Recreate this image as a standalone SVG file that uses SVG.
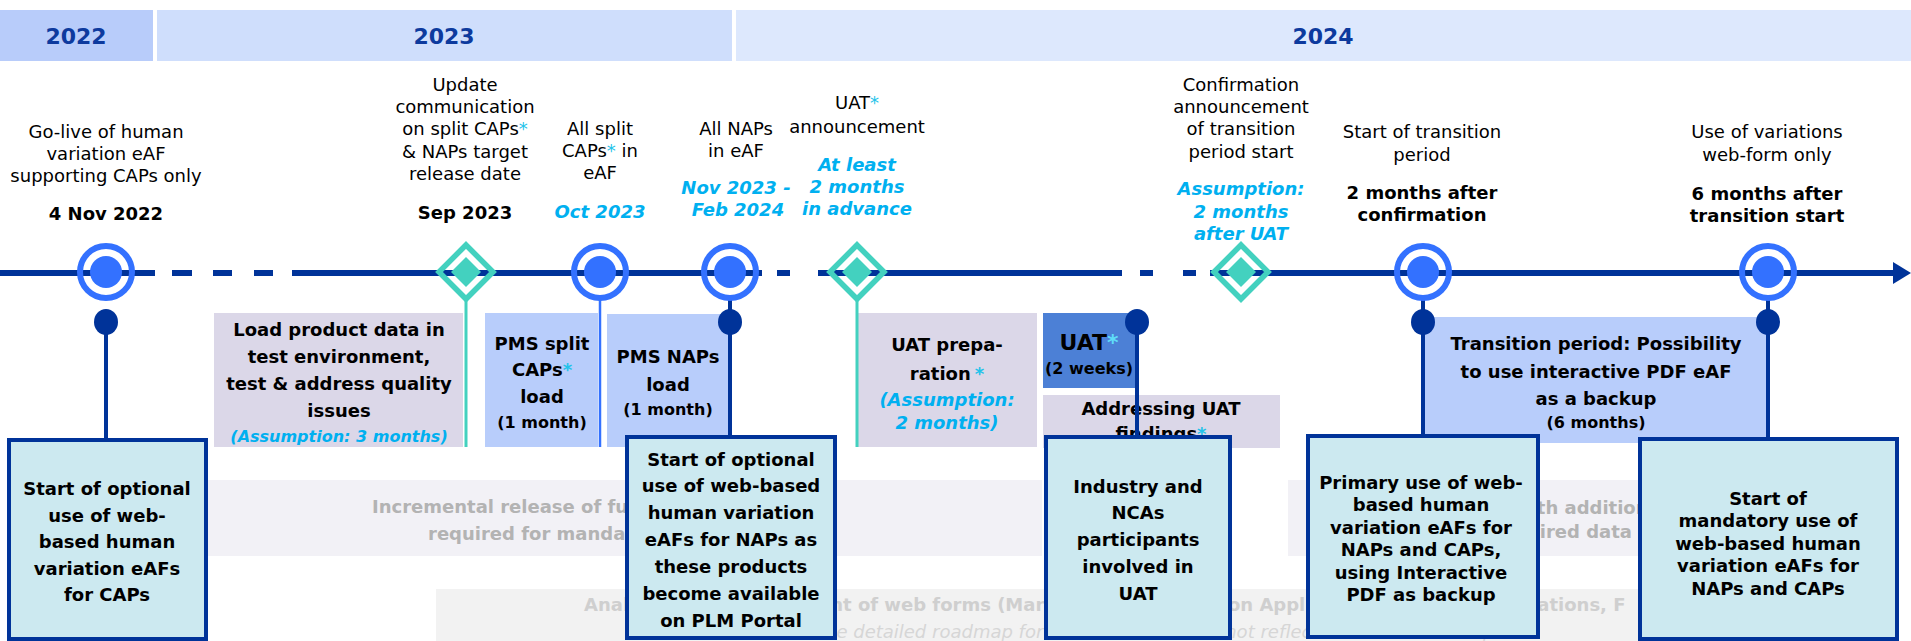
<svg xmlns="http://www.w3.org/2000/svg" width="1911" height="641" viewBox="0 0 1911 641">
<defs>
<style>
text{font-family:"DejaVu Sans",Verdana,sans-serif}
.t{font-size:18px;text-anchor:middle;fill:#000}
.b{font-weight:bold}
.cy{fill:#00b0f0;font-style:italic;font-weight:bold}
.ast{fill:#22c3ea}
.s16{font-size:16px}
.yr{font-size:22px;font-weight:bold;fill:#0d3a9e;text-anchor:middle}
.tl{stroke:#003399;stroke-width:6;fill:none}
.ring{fill:none;stroke:#3371ff;stroke-width:6}
.core{fill:#3371ff}
.dout{fill:none;stroke:#43d1bf;stroke-width:5.5}
.din{fill:#43d1bf}
.dot{fill:#003399}
.conn{stroke:#003399;stroke-width:4}
.tconn{stroke:#43d1bf;stroke-width:3}
.bconn{stroke:#3371ff;stroke-width:2.5}
.lav{fill:#dbd7e8}
.blue{fill:#b8cdfb}
.uat{fill:#4c80d6}
.key{fill:#cce9f0;stroke:#003399;stroke-width:4}
.barA{fill:#f2f1f6}
.barC{fill:#f2f2f2}
.fa{fill:#b3b3b3;font-size:18px;font-weight:bold}
.fc{fill:#cfcfcf;font-size:18px;font-weight:bold}
.fci{fill:#d6d6d6;font-size:18px;font-style:italic}
</style>
</defs>

<g id="years">
<rect x="0" y="10" width="153" height="51" fill="#b8ccfa"/>
<rect x="157" y="10" width="575" height="51" fill="#cfdefc"/>
<rect x="736" y="10" width="1175" height="51" fill="#dde8fd"/>
<text class="yr" x="76" y="44">2022</text>
<text class="yr" x="444" y="44">2023</text>
<text class="yr" x="1323" y="44">2024</text>
</g>

<g id="background-bars">
<rect class="barA" x="200" y="480" width="842" height="76"/>
<text class="fa" x="372" y="513">Incremental release of further functionalities</text>
<text class="fa" x="428" y="540">required for mandatory use</text>
<rect class="barA" x="1288" y="480" width="607" height="76"/>
<text class="fa" x="1514" y="514">with additional</text>
<text class="fa" x="1632" y="538" text-anchor="end">required data</text>
<rect class="barC" x="436" y="589" width="1300" height="52"/>
<text class="fc" x="584" y="611">Analysis and development of web forms (Marketing Authorisation Application, Renewals, Variations, F</text>
<text class="fci" x="814" y="638">The detailed roadmap for these web forms is not reflected on this roadmap</text>
</g>

<g id="period-load">
<rect class="lav" x="214" y="313" width="249" height="134"/>
<g class="t b">
<text x="339" y="336">Load product data in</text>
<text x="339" y="363">test environment,</text>
<text x="339" y="390">test &amp; address quality</text>
<text x="339" y="417">issues</text>
<text x="339" y="442" class="cy s16">(Assumption: 3 months)</text>
</g>
</g>

<g id="period-pms-split">
<rect class="blue" x="485" y="313" width="113" height="134"/>
<g class="t b">
<text x="542" y="350">PMS split</text>
<text x="542" y="376">CAPs<tspan class="ast">*</tspan></text>
<text x="542" y="403">load</text>
<text x="542" y="428" class="s16">(1 month)</text>
</g>
</g>

<g id="period-pms-naps">
<rect class="blue" x="607" y="314" width="123" height="133"/>
<g class="t b">
<text x="668" y="363">PMS NAPs</text>
<text x="668" y="391">load</text>
<text x="668" y="415" class="s16">(1 month)</text>
</g>
</g>

<g id="period-uat-prep">
<rect class="lav" x="857" y="313" width="180" height="134"/>
<g class="t b">
<text x="947" y="351">UAT prepa-</text>
<text x="947" y="380">ration<tspan class="ast" dx="4">*</tspan></text>
<text x="947" y="406" class="cy">(Assumption:</text>
<text x="947" y="429" class="cy">2 months)</text>
</g>
</g>

<g id="period-uat">
<rect class="uat" x="1043" y="313" width="92" height="75"/>
<g class="t b">
<text x="1089" y="350" style="font-size:22px">UAT<tspan class="ast" style="fill:#5fdcf8">*</tspan></text>
<text x="1089" y="374" class="s16">(2 weeks)</text>
</g>
</g>

<g id="period-addressing">
<rect class="lav" x="1043" y="395" width="237" height="53"/>
<g class="t b">
<text x="1161" y="415">Addressing UAT</text>
<text x="1161" y="440">findings<tspan class="ast">*</tspan></text>
</g>
</g>

<g id="period-transition">
<rect class="blue" x="1423" y="317" width="345" height="126"/>
<g class="t b">
<text x="1596" y="350">Transition period: Possibility</text>
<text x="1596" y="378">to use interactive PDF eAF</text>
<text x="1596" y="405">as a backup</text>
<text x="1596" y="428" class="s16">(6 months)</text>
</g>
</g>

<g id="connectors">
<line class="tconn" x1="466" y1="300" x2="466" y2="447"/>
<line class="tconn" x1="857" y1="300" x2="857" y2="447"/>
<line class="bconn" x1="600" y1="300" x2="600" y2="447"/>
<line class="conn" x1="106" y1="322" x2="106" y2="442"/>
<line class="conn" x1="730" y1="298" x2="730" y2="440"/>
<line class="conn" x1="1137" y1="322" x2="1137" y2="440"/>
<line class="conn" x1="1423" y1="298" x2="1423" y2="438"/>
<line class="conn" x1="1768" y1="298" x2="1768" y2="441"/>
<ellipse class="dot" cx="106" cy="322" rx="12" ry="13"/>
<ellipse class="dot" cx="730" cy="322" rx="12" ry="13"/>
<ellipse class="dot" cx="1137" cy="322" rx="12" ry="13"/>
<ellipse class="dot" cx="1423" cy="322" rx="12" ry="13"/>
<ellipse class="dot" cx="1768" cy="322" rx="12" ry="13"/>
</g>

<g id="timeline">
<path class="tl" d="M0,273H155M172,273H192M213,273H232M254,273H273M292,273H762M777,273H790M818,273H1122M1140,273H1153M1183,273H1196M1210,273H1895"/>
<polygon points="1893,262 1911,273 1893,284" fill="#003399"/>
</g>

<g id="m1"><circle class="ring" cx="106" cy="272" r="26"/><circle class="core" cx="106" cy="272" r="16"/>
<g class="t"><text x="106" y="138">Go-live of human</text><text x="106" y="160">variation eAF</text><text x="106" y="182">supporting CAPs only</text><text x="106" y="220" class="b">4 Nov 2022</text></g></g>

<g id="m2"><polygon class="dout" points="466,245 493,272 466,299 439,272"/><polygon class="din" points="466,257 481,272 466,287 451,272"/>
<g class="t"><text x="465" y="91">Update</text><text x="465" y="113">communication</text><text x="465" y="135">on split CAPs<tspan class="ast">*</tspan></text><text x="465" y="158">&amp; NAPs target</text><text x="465" y="180">release date</text><text x="465" y="219" class="b">Sep 2023</text></g></g>

<g id="m3"><circle class="ring" cx="600" cy="272" r="26"/><circle class="core" cx="600" cy="272" r="16"/>
<g class="t"><text x="600" y="135">All split</text><text x="600" y="157">CAPs<tspan class="ast">*</tspan> in</text><text x="600" y="179">eAF</text><text x="600" y="218" class="cy">Oct 2023</text></g></g>

<g id="m4"><circle class="ring" cx="730" cy="272" r="26"/><circle class="core" cx="730" cy="272" r="16"/>
<g class="t"><text x="736" y="135">All NAPs</text><text x="736" y="157">in eAF</text><text x="736" y="194" class="cy">Nov 2023 -</text><text x="738" y="216" class="cy">Feb 2024</text></g></g>

<g id="m5"><polygon class="dout" points="857,245 884,272 857,299 830,272"/><polygon class="din" points="857,257 872,272 857,287 842,272"/>
<g class="t"><text x="857" y="109">UAT<tspan class="ast">*</tspan></text><text x="857" y="133">announcement</text><text x="857" y="171" class="cy">At least</text><text x="857" y="193" class="cy">2 months</text><text x="857" y="215" class="cy">in advance</text></g></g>

<g id="m6"><polygon class="dout" points="1241,245 1268,272 1241,299 1214,272"/><polygon class="din" points="1241,257 1256,272 1241,287 1226,272"/>
<g class="t"><text x="1241" y="91">Confirmation</text><text x="1241" y="113">announcement</text><text x="1241" y="135">of transition</text><text x="1241" y="158">period start</text><text x="1241" y="195" class="cy">Assumption:</text><text x="1241" y="218" class="cy">2 months</text><text x="1241" y="240" class="cy">after UAT</text></g></g>

<g id="m7"><circle class="ring" cx="1423" cy="272" r="26"/><circle class="core" cx="1423" cy="272" r="16"/>
<g class="t"><text x="1422" y="138">Start of transition</text><text x="1422" y="161">period</text><text x="1422" y="199" class="b">2 months after</text><text x="1422" y="221" class="b">confirmation</text></g></g>

<g id="m8"><circle class="ring" cx="1768" cy="272" r="26"/><circle class="core" cx="1768" cy="272" r="16"/>
<g class="t"><text x="1767" y="138">Use of variations</text><text x="1767" y="161">web-form only</text><text x="1767" y="200" class="b">6 months after</text><text x="1767" y="222" class="b">transition start</text></g></g>

<g id="box1"><rect class="key" x="9" y="440" width="197" height="199"/>
<g class="t b"><text x="107" y="495">Start of optional</text><text x="107" y="522">use of web-</text><text x="107" y="548">based human</text><text x="107" y="575">variation eAFs</text><text x="107" y="601">for CAPs</text></g></g>

<g id="box2"><rect class="key" x="627" y="437" width="208" height="201"/>
<g class="t b"><text x="731" y="466">Start of optional</text><text x="731" y="492">use of web-based</text><text x="731" y="519">human variation</text><text x="731" y="546">eAFs for NAPs as</text><text x="731" y="573">these products</text><text x="731" y="600">become available</text><text x="731" y="627">on PLM Portal</text></g></g>

<g id="box3"><rect class="key" x="1046" y="437" width="184" height="201"/>
<g class="t b"><text x="1138" y="493">Industry and</text><text x="1138" y="519">NCAs</text><text x="1138" y="546">participants</text><text x="1138" y="573">involved in</text><text x="1138" y="600">UAT</text></g></g>

<g id="box4"><rect class="key" x="1308" y="436" width="230" height="201"/>
<g class="t b"><text x="1421" y="489">Primary use of web-</text><text x="1421" y="511">based human</text><text x="1421" y="534">variation eAFs for</text><text x="1421" y="556">NAPs and CAPs,</text><text x="1421" y="579">using Interactive</text><text x="1421" y="601">PDF as backup</text></g></g>

<g id="box5"><rect class="key" x="1640" y="439" width="257" height="200"/>
<g class="t b"><text x="1768" y="505">Start of</text><text x="1768" y="527">mandatory use of</text><text x="1768" y="550">web-based human</text><text x="1768" y="572">variation eAFs for</text><text x="1768" y="595">NAPs and CAPs</text></g></g>
</svg>
